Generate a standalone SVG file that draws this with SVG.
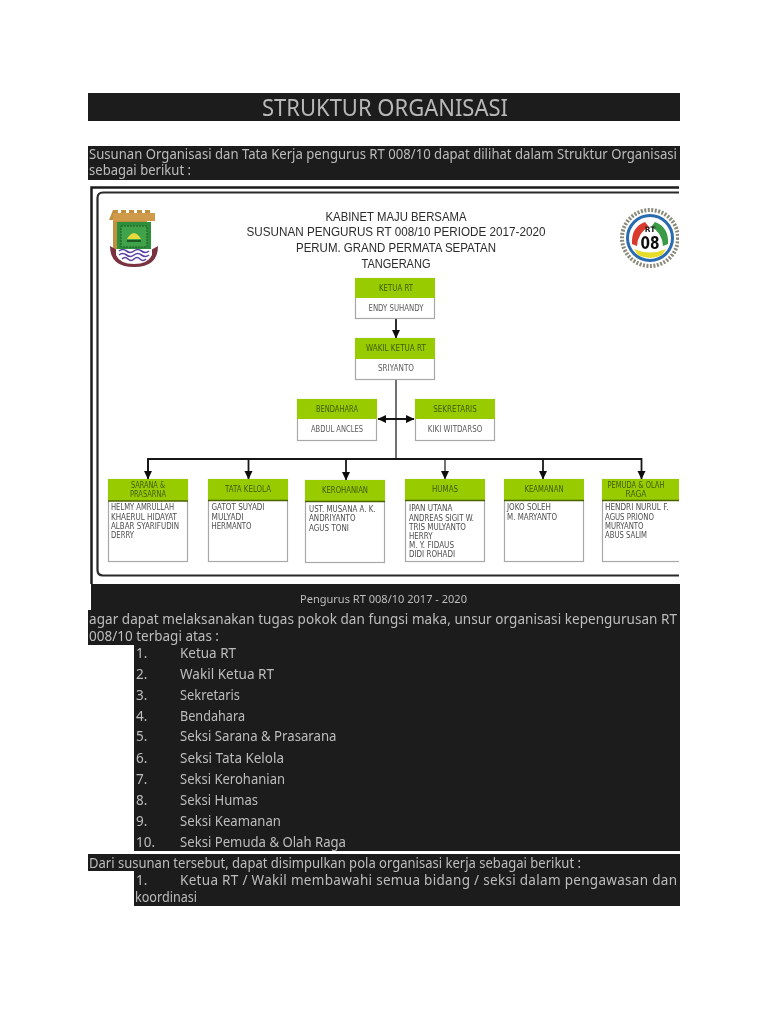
<svg xmlns="http://www.w3.org/2000/svg" width="768" height="1024" viewBox="0 0 768 1024">
<style>
text{font-family:"DejaVu Sans","Liberation Sans",sans-serif}
.b{fill:#1c1c1c}
.p{font-size:13.500px;fill:#bdbdbd;font-family:"Noto Sans","DejaVu Sans",sans-serif}
.h{font-family:"Liberation Sans","DejaVu Sans",sans-serif;font-size:13.500px;fill:#2c2c2c;text-anchor:middle}
.g{fill:#99cc00}
.w{fill:#fff;stroke:#a8a8a8;stroke-width:1.200}
.t{font-size:8px;fill:#3f5a00;text-anchor:middle}
.n{font-size:8px;fill:#5a5a5a;text-anchor:middle}
.l{font-size:8px;fill:#4c4c4c}
.c{fill:none;stroke:#151515;stroke-width:1.800}
.e{stroke:#4c6200;stroke-width:1.500;fill:none}
</style>
<defs>
<marker id="a" markerWidth="9" markerHeight="9" refX="8" refY="4.500" orient="auto-start-reverse" markerUnits="userSpaceOnUse"><path d="M0 0.500L8.500 4.500L0 8.500z" fill="#111"/></marker>
<clipPath id="cp"><rect x="88" y="185" width="591" height="400"/></clipPath>
<filter id="s" x="-2%" y="-2%" width="104%" height="104%"><feGaussianBlur stdDeviation="0.4"/></filter>
</defs>
<rect width="768" height="1024" fill="#fff"/>
<g filter="url(#s)">
<g id="bars">
<rect class="b" x="88" y="93" width="592" height="28"/>
<rect class="b" x="88" y="146" width="592" height="34"/>
<path class="b" d="M91 584H680V851H134V645H88V610H91z"/>
<path class="b" d="M88 854H680V906H134V871H88z"/>
</g>
<text x="262" y="115.500" font-size="23" fill="#b8b8b8" textLength="246" lengthAdjust="spacingAndGlyphs" style="font-family:'Noto Sans','DejaVu Sans',sans-serif">STRUKTUR ORGANISASI</text>
<text class="p" x="89" y="159" textLength="588" lengthAdjust="spacingAndGlyphs">Susunan Organisasi dan Tata Kerja pengurus RT 008/10 dapat dilihat dalam Struktur Organisasi</text>
<text class="p" x="89" y="175" textLength="102" lengthAdjust="spacingAndGlyphs">sebagai berikut :</text>

<g id="frame" clip-path="url(#cp)">
<path d="M91.500 584V187.500H680" fill="none" stroke="#1a1a1a" stroke-width="2.500"/>
<path d="M97.500 570V198Q97.500 192.500 103 192.500H680M97.500 570Q97.500 575.500 103 575.500H680" fill="none" stroke="#2a2a2a" stroke-width="2.200"/>
</g>

<g id="logo-left">
<path d="M113 210h5v3h3v-3h5v3h3v-3h5v3h3v-3h5v3h3v-3h5v3h1v7h-4v33h-34v-33h-4z" fill="#c0903f"/>
<rect x="113" y="213" width="42" height="8" fill="#cf9a48"/>
<rect x="117" y="222" width="34" height="28" fill="#2f8f3a"/>
<rect x="121" y="226" width="26" height="21" fill="#3fa24a" stroke="#1f5a28" stroke-dasharray="2 1"/>
<path d="M127 239Q134 227 141 239z" fill="#e8d93c"/>
<rect x="127" y="240" width="14" height="2" fill="#1f5a28"/>
<path d="M110 246Q110 267 134 267Q158 267 158 246L151 250H117z" fill="#7a3340"/>
<path d="M116 249H152V255Q148 264 134 264Q120 264 116 255z" fill="#fff"/>
<path d="M119 251q3.700-3 7.500 0t7.500 0t7.500 0t7.500 0M119 255q3.700-3 7.500 0t7.500 0t7.500 0t7.500 0M122 259q3-3 6 0t6 0t6 0t6 0" fill="none" stroke="#5a3fa0" stroke-width="1.600"/>
</g>
<g id="logo-right" clip-path="url(#cp)">
<circle cx="650" cy="238" r="28" fill="none" stroke="#8a8a7a" stroke-width="4" stroke-dasharray="2 1.500"/>
<circle cx="650" cy="238" r="22.500" fill="#fff" stroke="#2b6cb0" stroke-width="3"/>
<path d="M632 244Q631 227 645 222L649 227Q638 232 637 246z" fill="#d83a2f"/>
<path d="M668 244Q669 227 655 222L651 227Q662 232 663 246z" fill="#3a9a45"/>
<path d="M634 249Q650 256 666 249L662 255Q650 261 638 255z" fill="#e8dc2c"/>
<text x="650" y="232" font-size="7.500" font-weight="bold" fill="#222" text-anchor="middle">RT</text>
<text x="650" y="249" font-size="18" font-weight="bold" fill="#111" text-anchor="middle" textLength="19" lengthAdjust="spacingAndGlyphs">08</text>
</g>

<g id="heading">
<text class="h" x="396" y="220.500" textLength="141" lengthAdjust="spacingAndGlyphs">KABINET MAJU BERSAMA</text>
<text class="h" x="396" y="236" textLength="299" lengthAdjust="spacingAndGlyphs">SUSUNAN PENGURUS RT 008/10 PERIODE 2017-2020</text>
<text class="h" x="396" y="251.500" textLength="200" lengthAdjust="spacingAndGlyphs">PERUM. GRAND PERMATA SEPATAN</text>
<text class="h" x="396" y="267.500" textLength="69" lengthAdjust="spacingAndGlyphs">TANGERANG</text>
</g>

<g id="connectors">
<path class="c" d="M396 318V338" marker-end="url(#a)"/>
<path class="c" d="M396 379V459" style="stroke-width:1.200"/>
<path class="c" d="M378 419H414" marker-start="url(#a)" marker-end="url(#a)"/>
<path class="c" d="M148 479V459H641.500V479" marker-end="url(#a)"/>
<path class="c" d="M148 459V479" marker-end="url(#a)"/>
<path class="c" d="M248.500 459V479" marker-end="url(#a)"/>
<path class="c" d="M346 459V480" marker-end="url(#a)"/>
<path class="c" d="M445 459V479" style="stroke-width:1.200" marker-end="url(#a)"/>
<path class="c" d="M543 459V479" marker-end="url(#a)"/>
</g>

<g id="ketua"><rect class="w" x="355.500" y="278.500" width="79" height="40"/><rect class="g" x="355" y="278" width="80" height="20"/>
<text class="t" x="396" y="291" textLength="34" lengthAdjust="spacingAndGlyphs">KETUA RT</text><text class="n" x="396" y="311" textLength="55" lengthAdjust="spacingAndGlyphs">ENDY SUHANDY</text></g>
<g id="wakil"><rect class="w" x="355.500" y="338.500" width="79" height="41"/><rect class="g" x="355" y="338" width="80" height="21"/>
<text class="t" x="396" y="351" textLength="60" lengthAdjust="spacingAndGlyphs">WAKIL KETUA RT</text><text class="n" x="396" y="371" textLength="36" lengthAdjust="spacingAndGlyphs">SRIYANTO</text></g>
<g id="bendahara"><rect class="w" x="297.500" y="399.500" width="79" height="41"/><rect class="g" x="297" y="399" width="80" height="20"/>
<text class="t" x="337" y="412" textLength="42" lengthAdjust="spacingAndGlyphs">BENDAHARA</text><text class="n" x="337" y="432" textLength="52" lengthAdjust="spacingAndGlyphs">ABDUL ANCLES</text></g>
<g id="sekretaris"><rect class="w" x="415.500" y="399.500" width="79" height="41"/><rect class="g" x="415" y="399" width="80" height="20"/>
<text class="t" x="455" y="412" textLength="43.500" lengthAdjust="spacingAndGlyphs">SEKRETARIS</text><text class="n" x="455" y="432" textLength="54.500" lengthAdjust="spacingAndGlyphs">KIKI WITDARSO</text></g>

<g id="sarana"><rect class="w" x="108.500" y="479.500" width="79" height="82"/><rect class="g" x="108" y="479" width="80" height="22"/><path class="e" d="M108 501H188"/>
<text class="t" x="148" y="488" textLength="34" lengthAdjust="spacingAndGlyphs">SARANA &amp;</text><text class="t" x="148" y="497" textLength="36" lengthAdjust="spacingAndGlyphs">PRASARNA</text>
<text class="l" x="111" y="510" textLength="63" lengthAdjust="spacingAndGlyphs">HELMY AMRULLAH</text>
<text class="l" x="111" y="520" textLength="66" lengthAdjust="spacingAndGlyphs">KHAERUL HIDAYAT</text>
<text class="l" x="111" y="529" textLength="68" lengthAdjust="spacingAndGlyphs">ALBAR SYARIFUDIN</text>
<text class="l" x="111" y="538" textLength="23" lengthAdjust="spacingAndGlyphs">DERRY</text></g>
<g id="tata-kelola"><rect class="w" x="208.500" y="479.500" width="79" height="82"/><rect class="g" x="208" y="479" width="80" height="22"/><path class="e" d="M208 500.500H288"/>
<text class="t" x="248" y="492" textLength="46" lengthAdjust="spacingAndGlyphs">TATA KELOLA</text>
<text class="l" x="211.500" y="510" textLength="53" lengthAdjust="spacingAndGlyphs">GATOT SUYADI</text>
<text class="l" x="211.500" y="520" textLength="32" lengthAdjust="spacingAndGlyphs">MULYADI</text>
<text class="l" x="211.500" y="529" textLength="40" lengthAdjust="spacingAndGlyphs">HERMANTO</text></g>
<g id="kerohanian"><rect class="w" x="305.500" y="480.500" width="79" height="82"/><rect class="g" x="305" y="480" width="80" height="22"/><path class="e" d="M305 501.500H385"/>
<text class="t" x="345" y="493" textLength="46" lengthAdjust="spacingAndGlyphs">KEROHANIAN</text>
<text class="l" x="309" y="511.500" textLength="66.500" lengthAdjust="spacingAndGlyphs">UST. MUSANA A. K.</text>
<text class="l" x="309" y="521" textLength="46.500" lengthAdjust="spacingAndGlyphs">ANDRIYANTO</text>
<text class="l" x="309" y="530.500" textLength="40" lengthAdjust="spacingAndGlyphs">AGUS TONI</text></g>
<g id="humas"><rect class="w" x="405.500" y="479.500" width="79" height="82"/><rect class="g" x="405" y="479" width="80" height="22"/><path class="e" d="M405 500.500H485"/>
<text class="t" x="445" y="492" textLength="26" lengthAdjust="spacingAndGlyphs">HUMAS</text>
<text class="l" x="409" y="510.500" textLength="43.500" lengthAdjust="spacingAndGlyphs">IPAN UTANA</text>
<text class="l" x="409" y="520.500" textLength="65" lengthAdjust="spacingAndGlyphs">ANDREAS SIGIT W.</text>
<text class="l" x="409" y="529.500" textLength="57" lengthAdjust="spacingAndGlyphs">TRIS MULYANTO</text>
<text class="l" x="409" y="538.500" textLength="23.500" lengthAdjust="spacingAndGlyphs">HERRY</text>
<text class="l" x="409" y="548" textLength="45" lengthAdjust="spacingAndGlyphs">M. Y. FIDAUS</text>
<text class="l" x="409" y="557" textLength="46" lengthAdjust="spacingAndGlyphs">DIDI ROHADI</text></g>
<g id="keamanan"><rect class="w" x="504.500" y="479.500" width="79" height="82"/><rect class="g" x="504" y="479" width="80" height="22"/><path class="e" d="M504 500.500H584"/>
<text class="t" x="544" y="492" textLength="39" lengthAdjust="spacingAndGlyphs">KEAMANAN</text>
<text class="l" x="507" y="510" textLength="44" lengthAdjust="spacingAndGlyphs">JOKO SOLEH</text>
<text class="l" x="507" y="520" textLength="50" lengthAdjust="spacingAndGlyphs">M. MARYANTO</text></g>
<g id="pemuda" clip-path="url(#cp)"><rect class="w" x="602.500" y="479.500" width="90" height="82"/><rect class="g" x="602" y="479" width="90" height="22"/><path class="e" d="M602 500.500H680"/>
<text class="t" x="636" y="488" textLength="57" lengthAdjust="spacingAndGlyphs">PEMUDA &amp; OLAH</text><text class="t" x="636" y="497" textLength="21" lengthAdjust="spacingAndGlyphs">RAGA</text>
<text class="l" x="605" y="510" textLength="63.500" lengthAdjust="spacingAndGlyphs">HENDRI NURUL F.</text>
<text class="l" x="605" y="520" textLength="49" lengthAdjust="spacingAndGlyphs">AGUS PRIONO</text>
<text class="l" x="605" y="529" textLength="38.500" lengthAdjust="spacingAndGlyphs">MURYANTO</text>
<text class="l" x="605" y="538" textLength="42" lengthAdjust="spacingAndGlyphs">ABUS SALIM</text></g>

<g id="body">
<text class="p" x="300" y="603" style="font-size:11.500px" textLength="167" lengthAdjust="spacingAndGlyphs">Pengurus RT 008/10 2017 - 2020</text>
<text class="p" x="89" y="624" textLength="588" lengthAdjust="spacing">agar dapat melaksanakan tugas pokok dan fungsi maka, unsur organisasi kepengurusan RT</text>
<text class="p" x="89" y="641" textLength="130" lengthAdjust="spacingAndGlyphs">008/10 terbagi atas :</text>
<text class="p" x="136" y="658">1.</text><text class="p" x="180" y="658" textLength="56" lengthAdjust="spacingAndGlyphs">Ketua RT</text>
<text class="p" x="136" y="679">2.</text><text class="p" x="180" y="679" textLength="94" lengthAdjust="spacingAndGlyphs">Wakil Ketua RT</text>
<text class="p" x="136" y="700">3.</text><text class="p" x="180" y="700" textLength="60" lengthAdjust="spacingAndGlyphs">Sekretaris</text>
<text class="p" x="136" y="721">4.</text><text class="p" x="180" y="721" textLength="65" lengthAdjust="spacingAndGlyphs">Bendahara</text>
<text class="p" x="136" y="741">5.</text><text class="p" x="180" y="741" textLength="156.500" lengthAdjust="spacingAndGlyphs">Seksi Sarana &amp; Prasarana</text>
<text class="p" x="136" y="763">6.</text><text class="p" x="180" y="763" textLength="104" lengthAdjust="spacingAndGlyphs">Seksi Tata Kelola</text>
<text class="p" x="136" y="784">7.</text><text class="p" x="180" y="784" textLength="105" lengthAdjust="spacingAndGlyphs">Seksi Kerohanian</text>
<text class="p" x="136" y="805">8.</text><text class="p" x="180" y="805" textLength="78" lengthAdjust="spacingAndGlyphs">Seksi Humas</text>
<text class="p" x="136" y="826">9.</text><text class="p" x="180" y="826" textLength="101" lengthAdjust="spacingAndGlyphs">Seksi Keamanan</text>
<text class="p" x="136" y="847">10.</text><text class="p" x="180" y="847" textLength="166" lengthAdjust="spacingAndGlyphs">Seksi Pemuda &amp; Olah Raga</text>
<text class="p" x="89" y="868" textLength="492" lengthAdjust="spacingAndGlyphs">Dari susunan tersebut, dapat disimpulkan pola organisasi kerja sebagai berikut :</text>
<text class="p" x="136" y="885">1.</text><text class="p" x="180" y="885" textLength="497" lengthAdjust="spacing">Ketua RT / Wakil membawahi semua bidang / seksi dalam pengawasan dan</text>
<text class="p" x="135" y="902" textLength="62" lengthAdjust="spacingAndGlyphs">koordinasi</text>
</g>
</g>
</svg>
